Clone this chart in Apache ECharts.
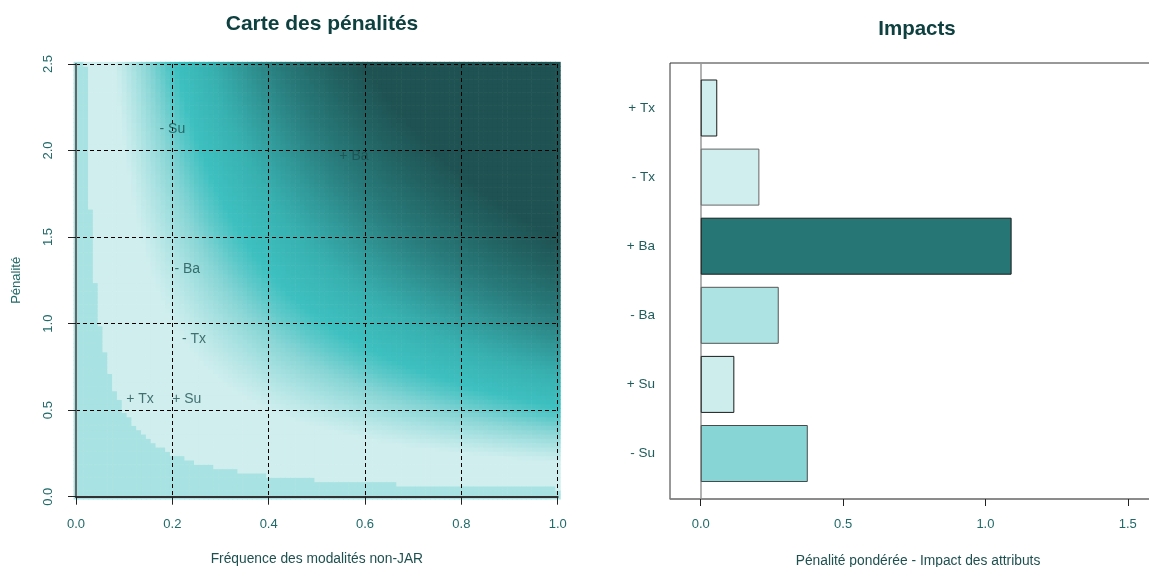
<!DOCTYPE html>
<html><head><meta charset="utf-8">
<script src="https://cdn.jsdelivr.net/npm/echarts@6/dist/echarts.min.js"></script>
<style>html,body{margin:0;padding:0;background:#fff}#c{width:1149px;height:567px}</style>
</head><body><div id="c"></div>
<script>
// ---- data ----
const attrLabels = ['+ Tx', '- Tx', '+ Ba', '- Ba', '+ Su', '- Su'];
const impacts = [0.058, 0.206, 1.092, 0.274, 0.118, 0.376];
const barColors = ['#d0eeee', '#d0eeee', '#277676', '#ade3e3', '#cdeded', '#88d5d5'];
const barBorders = ['#1a1a1a', '#666666', '#1a1a1a', '#555555', '#1a1a1a', '#4a4a4a'];

const pointLabels = ['- Su', '+ Ba', '- Ba', '- Tx', '+ Tx', '+ Su'];
const pointFreq = [0.200, 0.577, 0.231, 0.245, 0.133, 0.230];
const pointPen = [2.124, 1.965, 1.314, 0.910, 0.565, 0.565];

const freqTicks = [0, 0.2, 0.4, 0.6, 0.8, 1.0];
const penTicks = [0, 0.5, 1.0, 1.5, 2.0, 2.5];
const impactTicks = [0, 0.5, 1.0, 1.5];

// colour scale of the penalty map (impact level -> colour)
const lowLevel = 0.05;
const lowColor = '#a9e2e2';
const scaleStops = [0.2, 0.25, 0.3, 0.375, 0.45, 0.52, 0.7, 1.0, 1.1, 1.3, 1.5];
const scaleColors = ['#d0eeee', '#bde8e8', '#a8e1e1', '#88d5d5', '#5ec9c9', '#3ec0c0', '#38b0b0', '#2b8282', '#277676', '#226262', '#1f5252'];

// map grid: impact = frequency x penalty (definition of the map)
const fStep = 0.01, pStep = 0.025;
const mapData = [];
for (let i = 0; i <= 100; i++) {
  for (let j = 0; j <= 100; j++) {
    const f = i * fStep, p = j * pStep;
    mapData.push([f, p, f * p]);
  }
}

function mapColor(v) {
  if (v < lowLevel) return lowColor;
  if (v <= scaleStops[0]) return scaleColors[0];
  for (let i = 1; i < scaleStops.length; i++) {
    if (v < scaleStops[i]) {
      const t = (v - scaleStops[i - 1]) / (scaleStops[i] - scaleStops[i - 1]);
      return echarts.color.lerp(t, [scaleColors[i - 1], scaleColors[i]]);
    }
  }
  return scaleColors[scaleColors.length - 1];
}

const FONT = 'Liberation Sans, Arial, sans-serif';
const tickColor = '#216a6a';
const nameColor = '#1f5050';
const fmt1 = v => v.toFixed(1);

const chart = echarts.init(document.getElementById('c'));
chart.setOption({
  animation: false,
  textStyle: { fontFamily: FONT },
  title: [
    { text: 'Carte des pénalités', left: 317, top: 9, textAlign: 'center',
      textStyle: { fontSize: 21, fontWeight: 'bold', color: '#0e4040', fontFamily: FONT } },
    { text: 'Impacts', left: 912, top: 14, textAlign: 'center',
      textStyle: { fontSize: 20.5, fontWeight: 'bold', color: '#0e4040', fontFamily: FONT } },
    { text: 'Pénalité pondérée - Impact des attributs', left: 913, top: 549, textAlign: 'center',
      textStyle: { fontSize: 13.8, fontWeight: 'normal', color: nameColor, fontFamily: FONT } }
  ],
  grid: [
    { left: 76, top: 64, right: 591.3, bottom: 70.3, outerBoundsMode: 'none', containLabel: false },
    { left: 670, top: 73.45, width: 514.7, height: 414.6, outerBoundsMode: 'none', containLabel: false },
    { left: 670, top: 63, width: 514.7, height: 436, outerBoundsMode: 'none', containLabel: false,
      show: true, borderColor: '#333', borderWidth: 1, backgroundColor: 'transparent' }
  ],
  xAxis: [
    { gridIndex: 0, type: 'value', min: 0, max: 1, interval: 0.2, z: 5,
      axisLine: { show: true, lineStyle: { color: '#666', width: 2 } },
      axisTick: { show: true, length: 8, lineStyle: { color: '#222' } },
      axisLabel: { color: tickColor, fontSize: 13, margin: 21, formatter: fmt1 },
      splitLine: { show: true, lineStyle: { color: '#000', type: [4, 3], width: 1 } },
      name: 'Fréquence des modalités non-JAR', nameLocation: 'middle', nameGap: 55,
      nameTextStyle: { color: nameColor, fontSize: 13.8 } },
    { gridIndex: 0, type: 'value', min: 0, max: 1, position: 'top', z: 5,
      axisLine: { show: true, lineStyle: { color: '#222', width: 1.5 } },
      axisTick: { show: false }, axisLabel: { show: false }, splitLine: { show: false } },
    { gridIndex: 1, type: 'value', min: -0.108, max: 1.7, show: false },
    { gridIndex: 2, type: 'value', min: -0.108, max: 1.7,
      axisLine: { show: true, lineStyle: { color: '#888', width: 1.5 } },
      axisTick: { show: true, length: 7, customValues: impactTicks, lineStyle: { color: '#222' } },
      axisLabel: { color: tickColor, fontSize: 13, margin: 19, customValues: impactTicks, formatter: fmt1 },
      splitLine: { show: false } }
  ],
  yAxis: [
    { gridIndex: 0, type: 'value', min: 0, max: 2.5, interval: 0.5, z: 5,
      axisLine: { show: true, lineStyle: { color: '#666', width: 2 } },
      axisTick: { show: true, length: 8, lineStyle: { color: '#222' } },
      axisLabel: { color: tickColor, fontSize: 13, margin: 21, rotate: 90, formatter: fmt1 },
      splitLine: { show: true, lineStyle: { color: '#000', type: [4, 3], width: 1 } },
      name: 'Pénalité', nameLocation: 'middle', nameGap: 53, nameRotate: 90,
      nameTextStyle: { color: tickColor, fontSize: 13 } },
    { gridIndex: 0, type: 'value', min: 0, max: 2.5, position: 'right', z: 5,
      axisLine: { show: true, lineStyle: { color: '#666', width: 1.5 } },
      axisTick: { show: false }, axisLabel: { show: false }, splitLine: { show: false } },
    { gridIndex: 1, type: 'category', data: attrLabels, inverse: true,
      axisLine: { show: false, onZero: false }, axisTick: { show: false },
      axisLabel: { color: '#1f5c5c', fontSize: 13.5, margin: 15 }, splitLine: { show: false } },
    { gridIndex: 2, type: 'value', min: 0, max: 1,
      axisLine: { show: true, onZero: true, lineStyle: { color: '#999', width: 1.5 } },
      axisTick: { show: false }, axisLabel: { show: false }, splitLine: { show: false } }
  ],
  series: [
    { type: 'custom', xAxisIndex: 0, yAxisIndex: 0, z: 1, clip: false, progressive: 0,
      data: mapData,
      renderItem: function (params, api) {
        const f = api.value(0), p = api.value(1), v = api.value(2);
        const a = api.coord([f - fStep / 2, p + pStep / 2]);
        const b = api.coord([f + fStep / 2, p - pStep / 2]);
        return { type: 'rect',
          shape: { x: a[0], y: a[1], width: b[0] - a[0] + 0.6, height: b[1] - a[1] + 0.6 },
          style: { fill: mapColor(v) } };
      } },
    { type: 'scatter', xAxisIndex: 0, yAxisIndex: 0, z: 10, symbolSize: 0,
      data: pointLabels.map((n, i) => ({ name: n, value: [pointFreq[i], pointPen[i]] })),
      label: { show: true, position: 'inside', formatter: '{b}', color: '#1e5050', fontSize: 14, fontFamily: FONT } },
    { type: 'bar', xAxisIndex: 2, yAxisIndex: 2, barWidth: 57,
      data: impacts.map((v, i) => ({ value: v,
        itemStyle: { color: barColors[i], borderColor: barBorders[i], borderWidth: 1 } })) }
  ]
});
</script>
</body></html>
